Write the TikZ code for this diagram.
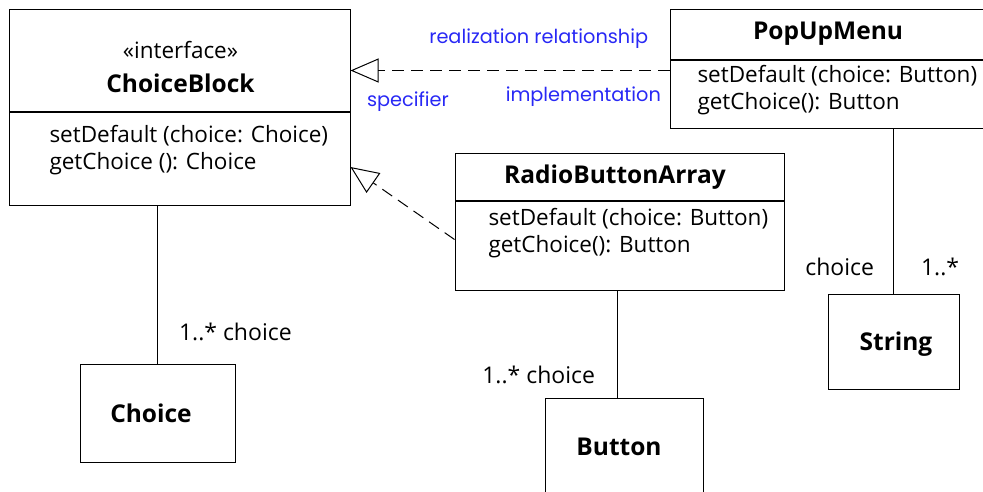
\documentclass[tikz,border=0pt]{standalone}
\usepackage{fontspec}
\setmainfont{Open Sans}
\newfontfamily\notefont{Poppins}
\usetikzlibrary{arrows.meta}
\definecolor{noteblue}{RGB}{40,40,245}

\begin{document}
\begin{tikzpicture}[
    x=1pt, y=-1pt,
    line width=1pt,
    classbox/.style={draw, rectangle, inner sep=0pt},
    titletext/.style={font=\fontsize{24.5}{28}\selectfont\bfseries, inner sep=0pt},
    stereotext/.style={font=\fontsize{22.5}{26}\selectfont, inner sep=0pt},
    opstext/.style={font=\fontsize{22.5}{27}\selectfont, align=left, inner sep=0pt, anchor=west},
    multtext/.style={font=\fontsize{23}{26}\selectfont, inner sep=0pt},
    notetext/.style={font=\notefont\fontsize{19.3}{22}\selectfont, text=noteblue, inner sep=0pt},
    realize/.style={
      dash pattern=on 12pt off 7pt,
      -{Triangle[open, length=28pt, width=24pt, line width=1pt]}
    }
  ]
    \useasboundingbox (0,0) rectangle (983,491);

    % interface
    \node[classbox, minimum width=341pt, minimum height=102pt] (CBHead) at (179.5,60) {};
    \node[classbox, minimum width=341pt, minimum height=93pt, anchor=north] (CBBody) at (CBHead.south) {};
    \node[stereotext] (CBStereo) at (180.5,50) {«interface»};
    \node[titletext] (CBTitle) at (180.5,83) {ChoiceBlock};
    \node[opstext] (CBOps) at (49,150.5) {setDefault (choice: Choice)\\getChoice (): Choice};

    % implementations
    \node[classbox, minimum width=340pt, minimum height=50pt] (PUMHead) at (840,34) {};
    \node[classbox, minimum width=340pt, minimum height=68pt, anchor=north] (PUMBody) at (PUMHead.south) {};
    \node[titletext] (PUMTitle) at (828,34) {PopUpMenu};
    \node[opstext] (PUMOps) at (697,90) {setDefault (choice: Button)\\getChoice(): Button};

    \node[classbox, minimum width=329pt, minimum height=47pt] (RBAHead) at (619.5,176.5) {};
    \node[classbox, minimum width=329pt, minimum height=89pt, anchor=north] (RBABody) at (RBAHead.south) {};
    \node[titletext] (RBATitle) at (615,177) {RadioButtonArray};
    \node[opstext] (RBAOps) at (488,233) {setDefault (choice: Button)\\getChoice(): Button};

    % simple classes
    \node[classbox, minimum width=155pt, minimum height=98pt] (Choice) at (157.5,413) {};
    \node[titletext] (ChoiceText) at (151,413) {Choice};
    \node[classbox, minimum width=158pt, minimum height=100pt] (Button) at (624,448) {};
    \node[titletext] (ButtonText) at (619,447) {Button};
    \node[classbox, minimum width=131pt, minimum height=95pt] (String) at (893.5,341.5) {};
    \node[titletext] (StringText) at (896,344) {String};

    % realization
    \coordinate (PUMLeft) at ([yshift=-11pt]PUMHead.south west);
    \draw[realize] (PUMLeft) -- (PUMLeft -| CBHead.east)
      node[notetext, pos=.41, above=21pt] (RealNote) {realization relationship}
      node[notetext, pos=.27, below=16pt] (ImplNote) {implementation}
      node[notetext, pos=.82, below=21pt] (SpecNote) {specifier};
    \draw[realize] ([yshift=6pt]RBABody.west) -- ([yshift=-8.5pt]CBBody.east);

    % associations
    \draw (Choice.north |- CBBody.south) -- (Choice.north)
      node[multtext, pos=.8, right=21pt] (ChoiceMult) {1..* choice};
    \draw ([xshift=-2pt]RBABody.south) -- ([xshift=-2pt]RBABody.south |- Button.north)
      node[multtext, pos=.79, left=22pt] (ButtonMult) {1..* choice};
    \draw (String.north |- PUMBody.south) -- (String.north)
      node[multtext, pos=.84, left=19pt] (StringRole) {choice}
      node[multtext, pos=.84, right=27pt] (StringMult) {1..*};
  \end{tikzpicture}
\end{document}
